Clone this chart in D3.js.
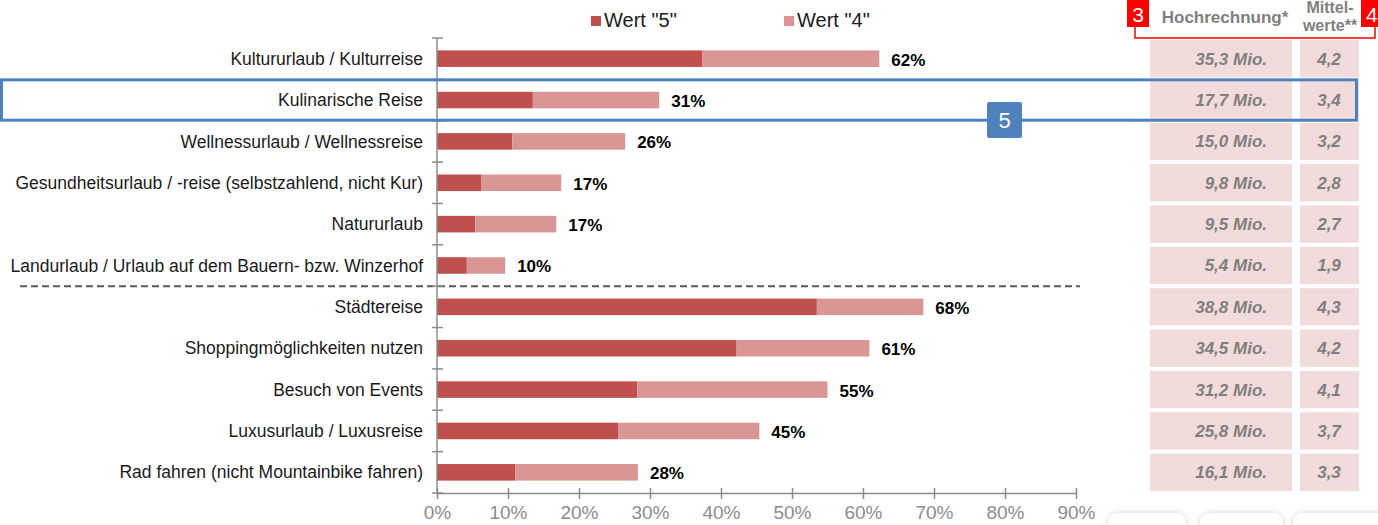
<!DOCTYPE html>
<html><head><meta charset="utf-8">
<script src="https://cdn.jsdelivr.net/npm/d3@7"></script>
<style>
html,body{margin:0;padding:0;background:#fff;}
svg{display:block;font-family:"Liberation Sans",Arial,sans-serif;}
</style></head>
<body>
<svg id="chart" width="1378" height="525"></svg>
<script>
const categories = [
  "Kultururlaub / Kulturreise",
  "Kulinarische Reise",
  "Wellnessurlaub / Wellnessreise",
  "Gesundheitsurlaub / -reise (selbstzahlend, nicht Kur)",
  "Natururlaub",
  "Landurlaub / Urlaub auf dem Bauern- bzw. Winzerhof",
  "Städtereise",
  "Shoppingmöglichkeiten nutzen",
  "Besuch von Events",
  "Luxusurlaub / Luxusreise",
  "Rad fahren (nicht Mountainbike fahren)"
];
const wert5 = [37.4, 13.5, 10.6, 6.2, 5.4, 4.2, 53.5, 42.2, 28.2, 25.5, 11.0];
const wert4 = [24.9, 17.8, 15.9, 11.3, 11.4, 5.4, 15.0, 18.7, 26.8, 19.9, 17.3];
const totalLabels = ["62%", "31%", "26%", "17%", "17%", "10%", "68%", "61%", "55%", "45%", "28%"];
const hochrechnung = ["35,3 Mio.", "17,7 Mio.", "15,0 Mio.", "9,8 Mio.", "9,5 Mio.", "5,4 Mio.", "38,8 Mio.", "34,5 Mio.", "31,2 Mio.", "25,8 Mio.", "16,1 Mio."];
const mittelwerte = ["4,2", "3,4", "3,2", "2,8", "2,7", "1,9", "4,3", "4,2", "4,1", "3,7", "3,3"];
const xTicks = [0, 10, 20, 30, 40, 50, 60, 70, 80, 90];
const seriesNames = ['Wert "5"', 'Wert "4"'];
const colors = ["#c0504d", "#da9694"];

const svg = d3.select("#chart");
const x = d3.scaleLinear().domain([0, 90]).range([437, 1076]);
const y = d3.scaleBand().domain(categories).range([38, 493]).paddingInner(0.6).paddingOuter(0.3);
const yb = d3.scaleBand().domain(categories).range([38, 493]);
const axisColor = "#8c8c8c";

// right side table
const col1 = [1150, 1292], col2 = [1300, 1359];
const rows = svg.append("g");
categories.forEach((c, i) => {
  const top = yb(c) + 2, h = yb.bandwidth() - 4;
  rows.append("rect").attr("x", col1[0]).attr("y", top).attr("width", col1[1]-col1[0]).attr("height", h).attr("fill", "#f2dcdb");
  rows.append("rect").attr("x", col2[0]).attr("y", top).attr("width", col2[1]-col2[0]).attr("height", h).attr("fill", "#f2dcdb");
  const cy = yb(c) + yb.bandwidth()/2;
  rows.append("text").attr("x", 1267).attr("y", cy).attr("dy", "0.35em").attr("text-anchor", "end")
    .attr("font-size", 17).attr("font-weight", "bold").attr("font-style", "italic").attr("fill", "#7f7f7f").text(hochrechnung[i]);
  rows.append("text").attr("x", 1329).attr("y", cy).attr("dy", "0.35em").attr("text-anchor", "middle")
    .attr("font-size", 17).attr("font-weight", "bold").attr("font-style", "italic").attr("fill", "#7f7f7f").text(mittelwerte[i]);
});

// headers
svg.append("text").attr("x", 1225).attr("y", 23).attr("text-anchor", "middle").attr("font-size", 17).attr("font-weight", "bold").attr("fill", "#7f7f7f").text("Hochrechnung*");
svg.append("text").attr("x", 1330).attr("y", 13).attr("text-anchor", "middle").attr("font-size", 16).attr("font-weight", "bold").attr("fill", "#7f7f7f").text("Mittel-");
svg.append("text").attr("x", 1330).attr("y", 31).attr("text-anchor", "middle").attr("font-size", 16).attr("font-weight", "bold").attr("fill", "#7f7f7f").text("werte**");

// red annotation box
svg.append("path").attr("d", "M1135,0 V38 H1375 V0").attr("fill", "none").attr("stroke", "#ff0000").attr("stroke-width", 1.5);
svg.append("rect").attr("x", 1127).attr("y", 0).attr("width", 22).attr("height", 27).attr("fill", "#ff0000");
svg.append("text").attr("x", 1138).attr("y", 22).attr("text-anchor", "middle").attr("font-size", 21).attr("fill", "#fff").text("3");
svg.append("rect").attr("x", 1361).attr("y", 0).attr("width", 20).attr("height", 27).attr("fill", "#ff0000");
svg.append("text").attr("x", 1366).attr("y", 22).attr("font-size", 21).attr("fill", "#fff").text("4");

// dashed separator
const sepY = yb(categories[6]);
svg.append("line").attr("x1", 20).attr("x2", 1080).attr("y1", sepY).attr("y2", sepY)
  .attr("stroke", "#595959").attr("stroke-width", 2).attr("stroke-dasharray", "7,4");

// stacked bars
const stackData = categories.map((c, i) => ({cat: c, w5: wert5[i], w4: wert4[i]}));
const stack = d3.stack().keys(["w5", "w4"])(stackData);
svg.append("g").selectAll("g").data(stack).join("g")
  .attr("fill", (d, i) => colors[i])
  .selectAll("rect").data(d => d).join("rect")
  .attr("x", d => x(d[0])).attr("width", d => x(d[1]) - x(d[0]))
  .attr("y", d => y(d.data.cat)).attr("height", y.bandwidth());

// value labels
svg.append("g").selectAll("text").data(stackData).join("text")
  .attr("x", d => x(d.w5 + d.w4) + 12)
  .attr("y", d => y(d.cat) + y.bandwidth()/2 + 1)
  .attr("dy", "0.35em").attr("font-size", 17).attr("font-weight", "bold").attr("fill", "#000")
  .text((d, i) => totalLabels[i]);

// category labels
svg.append("g").selectAll("text").data(categories).join("text")
  .attr("x", 423).attr("y", d => yb(d) + yb.bandwidth()/2)
  .attr("dy", "0.35em").attr("text-anchor", "end").attr("font-size", 17.5).attr("fill", "#1a1a1a")
  .text(d => d);

// y axis line & ticks
const yAxisG = svg.append("g");
yAxisG.append("line").attr("x1", 437).attr("x2", 437).attr("y1", 38).attr("y2", 493).attr("stroke", axisColor).attr("stroke-width", 1.5);
const boundaries = categories.map(c => yb(c)).concat([493]);
yAxisG.selectAll(".yt").data(boundaries).join("line").attr("class", "yt")
  .attr("x1", 432).attr("x2", 443).attr("y1", d => d).attr("y2", d => d)
  .attr("stroke", axisColor).attr("stroke-width", 1.5);

// x axis
const xAxis = d3.axisBottom(x).tickValues(xTicks).tickFormat(d => d + "%").tickSize(6).tickSizeOuter(0);
const xg = svg.append("g").attr("transform", "translate(0,493)").call(xAxis);
xg.select(".domain").attr("stroke", axisColor).attr("stroke-width", 1.5);
xg.selectAll(".tick line").attr("stroke", axisColor).attr("stroke-width", 1.5).attr("y1", -5).attr("y2", 6);
xg.selectAll(".tick text").attr("fill", "#8c8c8c").attr("font-size", 19).attr("font-family", "Liberation Sans, Arial, sans-serif").attr("y", 13).attr("dy", "0.71em");

// legend
const legX = [591, 784];
seriesNames.forEach((n, i) => {
  svg.append("rect").attr("x", legX[i]).attr("y", 16).attr("width", 10).attr("height", 10).attr("fill", colors[i]);
  svg.append("text").attr("x", legX[i] + 13).attr("y", 20).attr("dy", "0.35em").attr("font-size", 20).attr("fill", "#1a1a1a").text(n);
});

// blue highlight
const hy = yb(categories[1]);
svg.append("rect").attr("x", 1.5).attr("y", hy + 0.5).attr("width", 1355).attr("height", yb.bandwidth() - 1)
  .attr("fill", "none").attr("stroke", "#4f81bd").attr("stroke-width", 3);
svg.append("rect").attr("x", 987).attr("y", 102).attr("width", 35).attr("height", 36).attr("rx", 2).attr("fill", "#4f81bd");
svg.append("text").attr("x", 1004.5).attr("y", 120).attr("dy", "0.35em").attr("text-anchor", "middle").attr("font-size", 22).attr("fill", "#fff").text("5");

// bottom-right cards (partially visible)
const defs = svg.append("defs");
const f = defs.append("filter").attr("id", "sh").attr("x", "-20%").attr("y", "-50%").attr("width", "140%").attr("height", "200%");
f.append("feDropShadow").attr("dx", 0).attr("dy", 0).attr("stdDeviation", 3).attr("flood-color", "#000").attr("flood-opacity", 0.18);
[[1108, 1186], [1200, 1283], [1293, 1390]].forEach(([a, b]) => {
  svg.append("rect").attr("x", a).attr("y", 513).attr("width", b - a).attr("height", 30).attr("rx", 10).attr("fill", "#fff").attr("filter", "url(#sh)");
});
</script>
</body></html>
